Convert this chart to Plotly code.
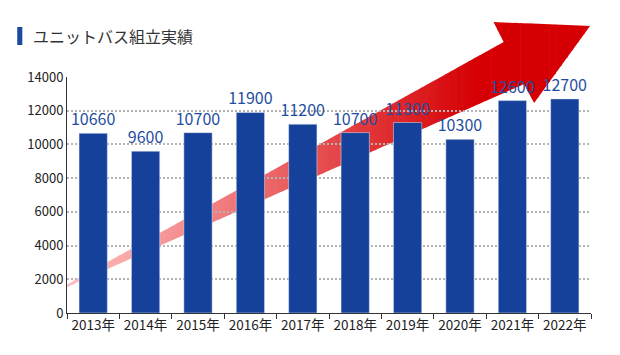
import plotly.graph_objects as go

years = ["2013年", "2014年", "2015年", "2016年", "2017年", "2018年", "2019年", "2020年", "2021年", "2022年"]
values = [10660, 9600, 10700, 11900, 11200, 10700, 11300, 10300, 12600, 12700]
y_ticks = [0, 2000, 4000, 6000, 8000, 10000, 12000, 14000]

OFF = 8  # page body margin
W, H = 620 - OFF, 355 - OFF
L, R, T, B = 67 - OFF, 37 - OFF, 77 - OFF, 42
PW, PH = 620 - 67 - 37, 355 - 77 - 42

def px(x, y):
    return (x - 67) / PW, (313 - y) / PH

# decorative arrow outline (pixel space of the reference)
arrow = [(67, 284.5), (497, 42), (487, 22), (582, 26), (527, 103), (517, 84), (67, 287)]

def clip(poly, x0, x1):
    def cut(pts, inside, inter):
        out = []
        n = len(pts)
        for i in range(n):
            a, b = pts[i], pts[(i + 1) % n]
            ia, ib = inside(a), inside(b)
            if ia:
                out.append(a)
                if not ib:
                    out.append(inter(a, b))
            elif ib:
                out.append(inter(a, b))
        return out
    def ix(xc):
        return lambda a, b: (xc, a[1] + (b[1] - a[1]) * (xc - a[0]) / (b[0] - a[0]))
    p = cut(poly, lambda q: q[0] >= x0, ix(x0))
    if not p:
        return p
    p = cut(p, lambda q: q[0] <= x1, ix(x1))
    return p

def col(x):
    t = max(0.0, min(1.0, (x - 67) / (470 - 67)))
    c0 = (255, 190, 190)
    c1 = (214, 0, 4)
    tt = t ** 1.1
    r = c0[0] + (c1[0] - c0[0]) * tt
    g = c0[1] + (c1[1] - c0[1]) * tt
    b = c0[2] + (c1[2] - c0[2]) * tt
    return f"rgb({int(r)},{int(g)},{int(b)})"

shapes = []
N = 90
xs0, xs1 = 67, 582
step = (xs1 - xs0) / N
for i in range(N):
    a = xs0 + i * step
    b = a + step + 0.6
    poly = clip(arrow, a, b)
    if len(poly) < 3:
        continue
    pts = [px(*q) for q in poly]
    path = "M " + " L ".join(f"{u:.5f},{v:.5f}" for u, v in pts) + " Z"
    c = col(a + step / 2)
    shapes.append(dict(type="path", path=path, xref="paper", yref="paper",
                       fillcolor=c, line=dict(width=0), layer="between"))

# title marker
shapes.append(dict(type="rect", xref="paper", yref="paper",
                   x0=px(18, 0)[0], x1=px(23, 0)[0], y0=px(0, 45)[1], y1=px(0, 27)[1],
                   fillcolor="#1a4a9e", line=dict(width=0)))

fig = go.Figure(go.Bar(
    x=years, y=values, marker_color="#15419a",
    text=[str(v) for v in values], textposition="outside", constraintext="none",
    textfont=dict(size=16, color="#1f4ea0", family="Noto Sans CJK JP"),
    cliponaxis=False, hoverinfo="skip",
))

fig.update_layout(
    width=W, height=H, margin=dict(l=L, r=R, t=T, b=B),
    paper_bgcolor="white", plot_bgcolor="white",
    bargap=0.46, showlegend=False,
    font=dict(family="Noto Sans CJK JP", size=13, color="#222"),
    shapes=shapes,
    annotations=[dict(text="ユニットバス組立実績", xref="paper", yref="paper",
                      x=px(32, 0)[0], y=px(0, 36)[1], xanchor="left", yanchor="middle",
                      showarrow=False, font=dict(size=16, color="#333", family="Noto Sans CJK JP"))],
)
fig.update_xaxes(showline=True, linecolor="#333", linewidth=1, ticks="outside",
                 tickson="boundaries", ticklen=5, tickcolor="#333", showgrid=False,
                 tickangle=0, automargin=False,
                 tickfont=dict(size=13.5, color="#222"))
fig.update_yaxes(range=[0, 14000], tickvals=y_ticks, ticktext=[str(v) for v in y_ticks],
                 showline=True, linecolor="#333", automargin=False,
                 linewidth=1, showgrid=True, gridcolor="#b4b4b4", griddash="2px,2px", gridwidth=1.5,
                 zeroline=False, tickfont=dict(size=13, color="#222"), ticks="")

fig.write_html("out.html")
